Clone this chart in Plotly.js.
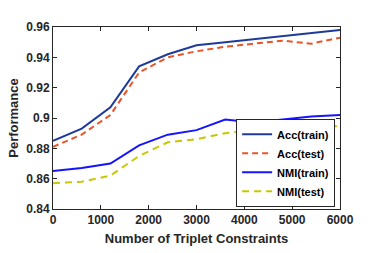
<!DOCTYPE html>
<html>
<head>
<meta charset="utf-8">
<script src="https://cdn.plot.ly/plotly-3.0.1.min.js"></script>
<style>html,body{margin:0;padding:0;background:#fff;}#chart{width:374px;height:253px;}</style>
</head>
<body>
<div id="chart"></div>
<script>
const constraints = [0, 600, 1200, 1800, 2400, 3000, 3600, 4200, 4800, 5400, 6000];
const accTrain = [0.885, 0.893, 0.907, 0.934, 0.942, 0.948, 0.950, 0.952, 0.954, 0.956, 0.958];
const accTest  = [0.881, 0.889, 0.902, 0.930, 0.940, 0.944, 0.947, 0.949, 0.951, 0.949, 0.953];
const nmiTrain = [0.865, 0.867, 0.870, 0.882, 0.889, 0.892, 0.899, 0.897, 0.899, 0.901, 0.902];
const nmiTest  = [0.857, 0.858, 0.862, 0.875, 0.884, 0.886, 0.890, 0.892, 0.893, 0.892, 0.895];
const seriesNames = ['Acc(train)', 'Acc(test)', 'NMI(train)', 'NMI(test)'];
const xTicks = [0, 1000, 2000, 3000, 4000, 5000, 6000];
const yTicks = [0.84, 0.86, 0.88, 0.9, 0.92, 0.94, 0.96];
const yTickText = ['0.84', '0.86', '0.88', '0.9', '0.92', '0.94', '0.96'];

const font = 'Liberation Sans, Arial, sans-serif';
const traces = [
  {x: constraints, y: accTrain, name: seriesNames[0], mode: 'lines', line: {color: '#1f3b99', width: 2}},
  {x: constraints, y: accTest, name: seriesNames[1], mode: 'lines', line: {color: '#e8552a', width: 2, dash: '6px,4px'}},
  {x: constraints, y: nmiTrain, name: seriesNames[2], mode: 'lines', line: {color: '#1414ff', width: 2}},
  {x: constraints, y: nmiTest, name: seriesNames[3], mode: 'lines', line: {color: '#c8c800', width: 2, dash: '7px,5px'}}
];
const axisCommon = {
  showline: true, mirror: 'ticks', linecolor: '#262626', linewidth: 1,
  ticks: 'inside', ticklen: 4, tickcolor: '#262626', showgrid: false, zeroline: false,
  tickfont: {family: font, size: 12, color: '#262626', weight: 'bold'}
};
const layout = {
  width: 374, height: 253,
  margin: {l: 53, r: 34, t: 27, b: 44},
  paper_bgcolor: '#fff', plot_bgcolor: '#fff',
  showlegend: true,
  font: {family: font, color: '#262626'},
  xaxis: Object.assign({}, axisCommon, {
    range: [0, 6000], tickvals: xTicks,
    title: {text: 'Number of Triplet Constraints', font: {family: font, size: 13, weight: 'bold', color: '#262626'}, standoff: 7}
  }),
  yaxis: Object.assign({}, axisCommon, {
    range: [0.84, 0.96], tickvals: yTicks, ticktext: yTickText,
    title: {text: 'Performance', font: {family: font, size: 13, weight: 'bold', color: '#262626'}, standoff: 4}
  }),
  legend: {
    x: 0.983, y: 0.012, xanchor: 'right', yanchor: 'bottom',
    bordercolor: '#262626', borderwidth: 1, bgcolor: '#fff',
    font: {family: font, size: 11, weight: 'bold', color: '#000'},
    tracegroupgap: 0, itemwidth: 30
  }
};
Plotly.newPlot('chart', traces, layout, {displayModeBar: false, staticPlot: true});
</script>
</body>
</html>
